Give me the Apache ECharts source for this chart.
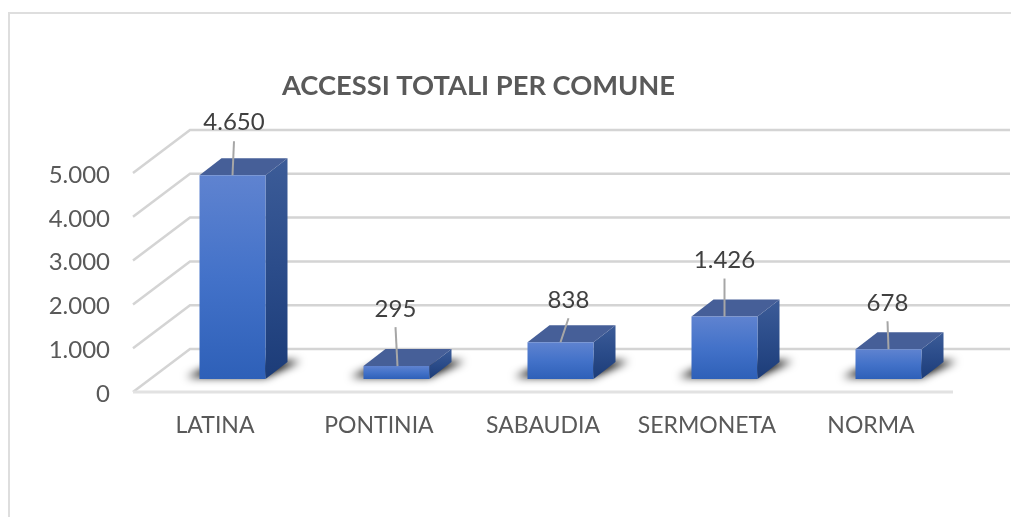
<!DOCTYPE html>
<html>
<head>
<meta charset="utf-8">
<style>
  html, body { margin: 0; padding: 0; background: #fff; overflow: hidden; }
  #chart { width: 1011px; height: 517px; }
</style>
<script src="https://cdn.jsdelivr.net/npm/echarts@6/dist/echarts.min.js"></script>
</head>
<body>
<div id="chart"></div>
<script>
const categories = ['LATINA', 'PONTINIA', 'SABAUDIA', 'SERMONETA', 'NORMA']
const values = [4650, 295, 838, 1426, 678]
const yTicks = [0, 1000, 2000, 3000, 4000, 5000]

// where each data label sits relative to the top of its bar: [dx, labelDy, leaderDy]
const labelShift = [[1.5, -53, -34], [-1, -57, -39], [8, -42, -24], [0, -56, -38], [-1, -46, -28]]
const leaderFoot = [0, 1, 0, 0, 0]

const FONT = 'Lato, "Noto Sans", sans-serif'
const WALL = [57, -43]    // floor depth, front edge to back wall
const BAR_OFFSET = [17.5, -13] // bar front face sits this far inside the floor
const BAR_DEPTH = [22, -17]
const BAR_WIDTH = 66
const OFFSCREEN = 3000 // shape is drawn off canvas so only its blurred shadow shows

const fmt = v => String(v).replace(/\B(?=(\d{3})+$)/g, '.')

const vGrad = (a, b, c) => new echarts.graphic.LinearGradient(0, 0, 0, 1, [
  { offset: 0, color: a }, { offset: 0.5, color: b }, { offset: 1, color: c }
])

function renderGrid(params, api) {
  const cs = params.coordSys
  const tick = api.value(1)
  const y = api.coord([0, tick])[1]
  const x0 = cs.x
  const x1 = cs.x + cs.width
  const style = { stroke: '#d4d4d4', lineWidth: 2.5, fill: null }
  const children = [{
    type: 'polyline',
    shape: { points: [[x0, y], [x0 + WALL[0], y + WALL[1]], [x1 + WALL[0], y + WALL[1]]] },
    style
  }]
  if (tick === 0) {
    children.push({
      type: 'line',
      shape: { x1: x0, y1: y, x2: x1, y2: y },
      style: { stroke: '#e2e2e2', lineWidth: 3 }
    })
  }
  return { type: 'group', children }
}

function renderBar(params, api) {
  const i = api.value(0)
  const top = api.coord([i, api.value(1)])
  const base = api.coord([i, 0])
  const xl = top[0] + BAR_OFFSET[0] - BAR_WIDTH / 2
  const xr = xl + BAR_WIDTH
  const yt = top[1] + BAR_OFFSET[1]
  const yb = base[1] + BAR_OFFSET[1]
  const dx = BAR_DEPTH[0]
  const dy = BAR_DEPTH[1]
  const cx = xl + BAR_WIDTH / 2
  const s = labelShift[params.dataIndex]
  const sx = -OFFSCREEN
  return {
    type: 'group',
    children: [
      {
        // soft shadow on the floor
        type: 'polygon',
        shape: { points: [[sx + xl - 13, yb - 2], [sx + xr, yb - 2], [sx + xr + dx + 13, yb + dy - 1], [sx + xl + dx, yb + dy - 1]] },
        style: { fill: '#000', shadowBlur: 9, shadowColor: '#000', shadowOffsetX: OFFSCREEN }
      },
      {
        type: 'polygon',
        shape: { points: [[xr, yt], [xr + dx, yt + dy], [xr + dx, yb + dy], [xr, yb]] },
        style: { fill: vGrad('#3c5c98', '#2b4c8a', '#1c3c78') }
      },
      {
        type: 'polygon',
        shape: { points: [[xl, yt], [xr, yt], [xr + dx, yt + dy], [xl + dx, yt + dy]] },
        style: { fill: '#465f98' }
      },
      {
        type: 'rect',
        shape: { x: xl, y: yt, width: BAR_WIDTH, height: yb - yt },
        style: { fill: vGrad('#5f83d0', '#4372c9', '#2e60b8') }
      },
      {
        type: 'line',
        shape: { x1: cx + s[0], y1: yt + s[2], x2: cx + leaderFoot[params.dataIndex], y2: yt },
        style: { stroke: '#a6a6a6', lineWidth: 2 }
      },
      {
        type: 'text',
        x: cx + s[0],
        y: yt + s[1],
        style: {
          text: fmt(api.value(1)),
          font: '24px ' + FONT,
          fill: '#404040',
          align: 'center',
          verticalAlign: 'middle'
        }
      }
    ]
  }
}

const myChart = echarts.init(document.getElementById('chart'), null, { renderer: 'canvas' })

myChart.setOption({
  animation: false,
  backgroundColor: '#fff',
  title: {
    text: 'ACCESSI TOTALI PER COMUNE',
    left: 473.5,
    top: 81,
    textAlign: 'center',
    textVerticalAlign: 'middle',
    textStyle: { fontFamily: FONT, fontSize: 27.3, fontWeight: 'bold', color: '#595959' }
  },
  grid: { left: 133, top: 173, width: 820, height: 219 },
  xAxis: {
    type: 'category',
    data: categories,
    axisLine: { show: false },
    axisTick: { show: false },
    axisLabel: { margin: 22, fontFamily: FONT, fontSize: 23, color: '#595959', interval: 0 }
  },
  yAxis: {
    type: 'value',
    min: 0,
    max: 5000,
    interval: 1000,
    axisLine: { show: false },
    axisTick: { show: false },
    splitLine: { show: false },
    axisLabel: {
      margin: 23,
      fontFamily: FONT,
      fontSize: 24,
      color: '#595959',
      formatter: v => '{t|' + fmt(v) + '}',
      rich: { t: { fontFamily: FONT, fontSize: 24, color: '#595959', padding: [4, 0, 0, 0] } }
    }
  },
  graphic: [{
    // chart frame, runs off the right and bottom of the crop
    type: 'polyline',
    silent: true,
    z: 0,
    shape: { points: [[9, 520], [9, 13], [1015, 13]] },
    style: { stroke: '#dedede', lineWidth: 2, fill: null }
  }],
  series: [
    {
      type: 'custom',
      z: 1,
      silent: true,
      renderItem: renderGrid,
      data: yTicks.map(t => [0, t])
    },
    {
      type: 'custom',
      z: 2,
      silent: true,
      renderItem: renderBar,
      encode: { x: 0, y: 1 },
      data: values.map((v, i) => [i, v])
    }
  ]
})
</script>
</body>
</html>
